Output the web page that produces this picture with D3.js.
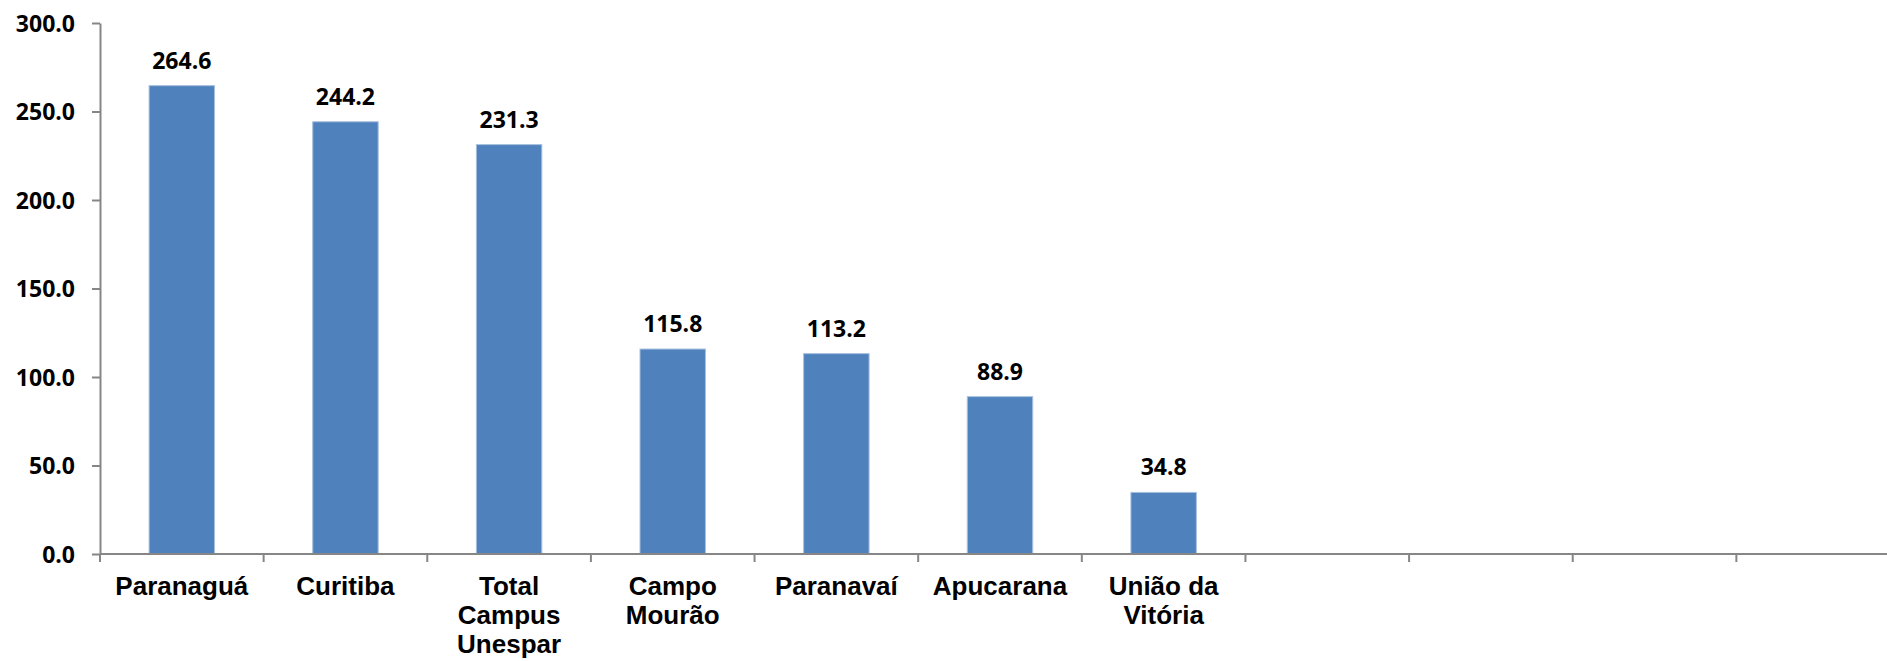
<!DOCTYPE html>
<html>
<head>
<meta charset="utf-8">
<script src="https://cdn.jsdelivr.net/npm/d3@7"></script>
<style>
  body { margin: 0; background: #fff; }
  svg { display: block; }
</style>
</head>
<body>
<div id="container"></div>
<script>
/* DATA */
var categories = ['Paranaguá', 'Curitiba', 'Total Campus Unespar', 'Campo Mourão', 'Paranavaí', 'Apucarana', 'União da Vitória', '', '', '', '']
var labelLines = [['Paranaguá'], ['Curitiba'], ['Total', 'Campus', 'Unespar'], ['Campo', 'Mourão'], ['Paranavaí'], ['Apucarana'], ['União da', 'Vitória'], [], [], [], []]
var values = [264.6, 244.2, 231.3, 115.8, 113.2, 88.9, 34.8]
var yTicks = [0, 50, 100, 150, 200, 250, 300]

/* SET UP */
var width = 1887, height = 661
var plotLeft = 100, plotRight = 1900, plotTop = 23, plotBottom = 554
var axisColor = '#868686'
var barColor = '#4F81BD'
var catFont = '"Liberation Sans", Arial, sans-serif'
var numFont = '"Open Sans", "Liberation Sans", sans-serif'

var svg = d3.select('#container').append('svg')
  .attr('width', width)
  .attr('height', height)

var x = d3.scaleBand()
  .domain(d3.range(categories.length))
  .range([plotLeft, plotRight])
  .paddingInner(0.6)
  .paddingOuter(0.3)

var xTickScale = d3.scaleLinear().domain([0, categories.length]).range([plotLeft, plotRight])

var y = d3.scaleLinear().domain([0, 300]).range([plotBottom, plotTop])

// y axis
var yAxis = svg.append('g')
  .attr('transform', 'translate(' + plotLeft + ',0)')
  .call(d3.axisLeft(y).tickValues(yTicks).tickSize(8).tickSizeOuter(0).tickFormat(d3.format('.1f')))
yAxis.select('.domain').attr('stroke', axisColor).attr('stroke-width', 2)
yAxis.selectAll('.tick line').attr('stroke', axisColor).attr('stroke-width', 2)
yAxis.selectAll('.tick text')
  .attr('x', -25)
  .attr('dy', '0.36em')
  .style('font-family', numFont)
  .style('font-weight', 'bold')
  .style('font-size', '23px')
  .attr('fill', '#000')

// bars
svg.selectAll('rect.bar')
  .data(values)
  .enter()
  .append('rect')
  .attr('class', 'bar')
  .attr('x', function(d, i) { return x(i) })
  .attr('y', function(d) { return y(d) })
  .attr('width', x.bandwidth())
  .attr('height', function(d) { return plotBottom - y(d) })
  .attr('fill', barColor)
  .attr('stroke', '#a7c0de')
  .attr('stroke-width', 1)

// value labels
svg.selectAll('text.val')
  .data(values)
  .enter()
  .append('text')
  .attr('class', 'val')
  .attr('x', function(d, i) { return x(i) + x.bandwidth() / 2 })
  .attr('y', function(d) { return y(d) - 17 })
  .attr('text-anchor', 'middle')
  .style('font-family', numFont)
  .style('font-weight', 'bold')
  .style('font-size', '23px')
  .text(function(d) { return d.toFixed(1) })

// x axis line and ticks
svg.append('line')
  .attr('x1', plotLeft).attr('x2', plotRight)
  .attr('y1', plotBottom).attr('y2', plotBottom)
  .attr('stroke', axisColor).attr('stroke-width', 2)

svg.selectAll('line.xtick')
  .data(d3.range(categories.length + 1))
  .enter()
  .append('line')
  .attr('class', 'xtick')
  .attr('x1', function(d) { return xTickScale(d) })
  .attr('x2', function(d) { return xTickScale(d) })
  .attr('y1', plotBottom).attr('y2', plotBottom + 8)
  .attr('stroke', axisColor).attr('stroke-width', 2)

// category labels
var labels = svg.selectAll('text.cat')
  .data(labelLines)
  .enter()
  .append('text')
  .attr('class', 'cat')
  .attr('text-anchor', 'middle')
  .style('font-family', catFont)
  .style('font-weight', 'bold')
  .style('font-size', '26px')

labels.each(function(lines, i) {
  var cx = x(i) + x.bandwidth() / 2
  d3.select(this).selectAll('tspan')
    .data(lines)
    .enter()
    .append('tspan')
    .attr('x', cx)
    .attr('y', function(d, j) { return 595 + j * 29 })
    .text(function(d) { return d })
})
</script>
</body>
</html>
